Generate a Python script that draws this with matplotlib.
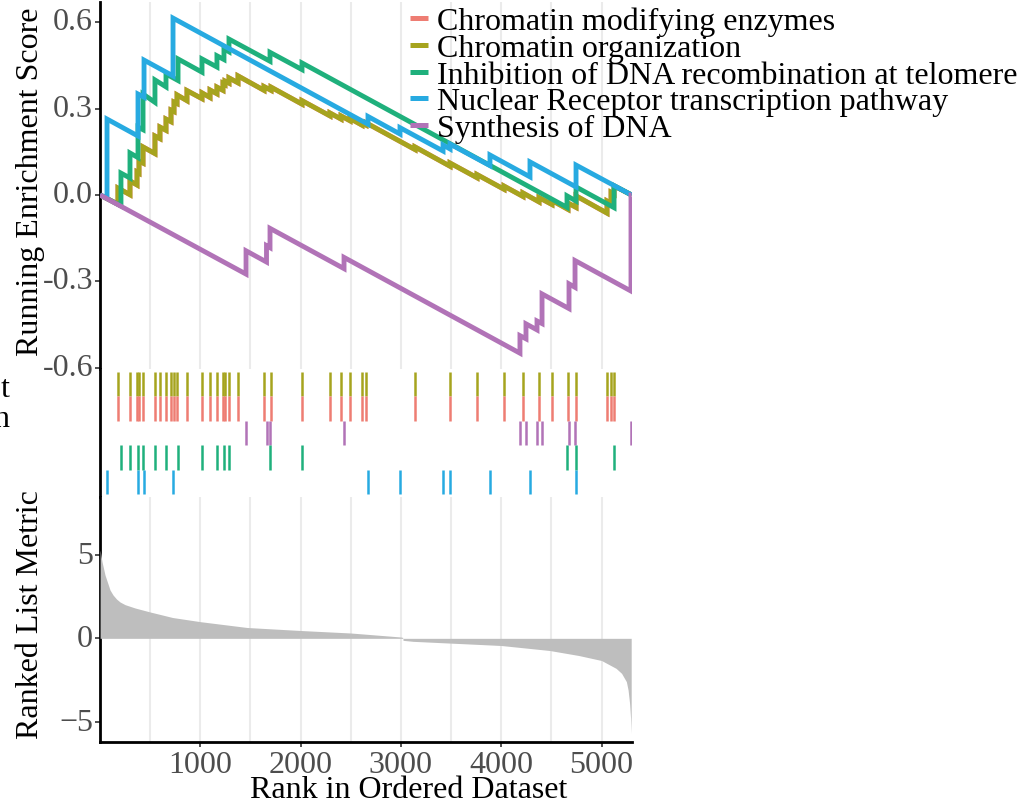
import matplotlib
matplotlib.use("Agg")
import matplotlib.pyplot as plt
from matplotlib.lines import Line2D
from matplotlib.ticker import FormatStrFormatter
from matplotlib.transforms import ScaledTranslation
import numpy as np

plt.rcParams['font.family'] = ['Liberation Serif', 'DejaVu Serif']
plt.rcParams['axes.unicode_minus'] = True

W, H = 1024, 803
N_GENES = 5300

set_names = [
    "Chromatin modifying enzymes",
    "Chromatin organization",
    "Inhibition of DNA recombination at telomere",
    "Nuclear Receptor transcription pathway",
    "Synthesis of DNA",
]
set_colors = ["#EE7D73", "#A6A41E", "#1FB07C", "#27AAE1", "#B173B7"]

# ---- gene-set hit ranks and running enrichment score just before / after each hit ----
chromatin_hits = [179, 299, 369, 389, 429, 548, 598, 658, 708, 738, 768, 867, 1017,
                  1097, 1166, 1226, 1246, 1286, 1376, 1635, 1705, 2014, 2293, 2403,
                  2493, 2612, 2652, 3141, 3490, 3759, 4028, 4217, 4377, 4506, 4666,
                  4746, 5055, 5095, 5125]
chromatin_es_pre = [-0.032, 0.001, 0.035, 0.076, 0.111, 0.144, 0.196, 0.225, 0.255,
                    0.290, 0.318, 0.328, 0.335, 0.339, 0.352, 0.364, 0.384, 0.389,
                    0.390, 0.364, 0.364, 0.316, 0.275, 0.264, 0.258, 0.243, 0.243,
                    0.158, 0.100, 0.060, 0.020, -0.005, -0.024, -0.033, -0.050,
                    -0.043, -0.063, -0.029, 0.003]
chromatin_es_post = [0.024, 0.049, 0.080, 0.118, 0.167, 0.205, 0.236, 0.264, 0.295,
                     0.323, 0.348, 0.363, 0.355, 0.365, 0.375, 0.388, 0.396, 0.407,
                     0.414, 0.377, 0.375, 0.328, 0.285, 0.275, 0.266, 0.250, 0.251,
                     0.167, 0.111, 0.071, 0.031, 0.007, -0.009, -0.019, -0.028,
                     -0.003, -0.021, 0.009, 0.032]

telomere_hits = [209, 299, 379, 429, 548, 658, 778, 1017, 1166, 1236, 1286, 1695,
                 2014, 4656, 4746, 5125]
telomere_es_pre = [-0.038, 0.059, 0.130, 0.227, 0.322, 0.376, 0.398, 0.427, 0.445,
                   0.471, 0.498, 0.465, 0.436, -0.043, -0.021, -0.044]
telomere_es_post = [0.076, 0.146, 0.236, 0.351, 0.400, 0.421, 0.473, 0.473, 0.484,
                    0.508, 0.542, 0.496, 0.459, -0.003, 0.028, 0.032]

receptor_hits = [70, 379, 439, 728, 2672, 2991, 3420, 3490, 3888, 4287, 4746]
receptor_es_pre = [-0.010, 0.205, 0.340, 0.414, 0.246, 0.212, 0.153, 0.160, 0.102,
                   0.063, 0.028]
receptor_es_post = [0.264, 0.351, 0.469, 0.615, 0.273, 0.234, 0.174, 0.177, 0.139,
                    0.115, 0.104]

synthesis_hits = [1456, 1660, 1695, 2433, 4187, 4247, 4357, 4407, 4676, 4736, 5294]
synthesis_es_pre = [-0.275, -0.233, -0.183, -0.256, -0.550, -0.500, -0.469, -0.447,
                    -0.395, -0.321, -0.334]
synthesis_es_post = [-0.194, -0.176, -0.116, -0.217, -0.489, -0.448, -0.438, -0.344,
                     -0.309, -0.228, 0.000]

# both chromatin sets share the same leading genes
set_hits = [chromatin_hits, chromatin_hits, telomere_hits, receptor_hits, synthesis_hits]
set_pre = [chromatin_es_pre, chromatin_es_pre, telomere_es_pre, receptor_es_pre, synthesis_es_pre]
set_post = [chromatin_es_post, chromatin_es_post, telomere_es_post, receptor_es_post, synthesis_es_post]

# rug rows from top to bottom (indices into set_names)
rug_order = [1, 0, 4, 2, 3]

# ---- ranked list metric ----
metric_rank = [1, 20, 50, 100, 130, 166, 200, 250, 350, 500, 723, 1000, 1467, 2000,
               2500, 3000, 3020, 3021, 3120, 4000, 4483, 4773, 5000, 5145, 5200,
               5248, 5265, 5280, 5290, 5296]
metric_value = [5.3, 4.6, 3.8, 2.9, 2.6, 2.35, 2.18, 2.02, 1.82, 1.58, 1.25, 1.0,
                0.65, 0.47, 0.32, 0.08, 0.05, -0.12, -0.18, -0.43, -0.73, -1.03,
                -1.33, -1.8, -2.1, -2.6, -3.1, -3.9, -4.8, -5.7]

x_ticks = [1000, 2000, 3000, 4000, 5000]
x_minor = [500, 1500, 2500, 3500, 4500]
es_ticks = [-0.6, -0.3, 0.0, 0.3, 0.6]
metric_ticks = [-5, 0, 5]

FS = 23
TICK_COLOR = "#4D4D4D"
GRID_COLOR = "#EBEBEB"


def px_axes(x0, y0, x1, y1):
    return fig.add_axes([x0 / W, 1 - y1 / H, (x1 - x0) / W, (y1 - y0) / H])


def es_path(hits, pre, post, n):
    xs, ys = [1], [0.0]
    for r, a, b in zip(hits, pre, post):
        xs += [r, r]
        ys += [a, b]
    xs.append(n)
    ys.append(0.0)
    return xs, ys


def lift_labels(labels, dy_px):
    shift = ScaledTranslation(0, dy_px / 100, fig.dpi_scale_trans)
    for lab in labels:
        lab.set_transform(lab.get_transform() + shift)


fig = plt.figure(figsize=(W / 100, H / 100), dpi=100)

X0, X1 = 100, 631.6

# ---------- running enrichment score ----------
ax1 = px_axes(X0, 3, X1, 370)
ax1.set_xlim(0, N_GENES)
ax1.set_ylim(-0.605, 0.671)
for i in range(len(set_names)):
    xs, ys = es_path(set_hits[i], set_pre[i], set_post[i], N_GENES)
    ax1.plot(xs, ys, color=set_colors[i], lw=3.5, solid_joinstyle='miter',
             solid_capstyle='butt', zorder=3 + i)
ax1.set_xticks(x_ticks)
ax1.set_xticks(x_minor, minor=True)
ax1.grid(True, axis='x', which='both', color=GRID_COLOR, lw=1.5)
ax1.set_axisbelow(True)
ax1.tick_params(axis='x', which='both', length=0, labelbottom=False)
ax1.set_yticks(es_ticks)
ax1.yaxis.set_major_formatter(FormatStrFormatter('%.1f'))
ax1.tick_params(axis='y', length=3.5, width=1.2, color='#333333', pad=1.5,
                labelsize=FS, labelcolor=TICK_COLOR)
for s in ['top', 'right', 'bottom']:
    ax1.spines[s].set_visible(False)
ax1.spines['left'].set_linewidth(2.0)
lift_labels(ax1.get_yticklabels(), 4)

# ---------- gene set rug ----------
ax2 = px_axes(X0, 370, X1, 498)
ax2.set_xlim(0, N_GENES)
ax2.set_ylim(-5.12, 0.12)
for row, idx in enumerate(rug_order):
    ax2.vlines(set_hits[idx], -row - 1, -row, color=set_colors[idx], lw=1.8)
ax2.set_xticks([])
ax2.set_yticks([])
for s in ['top', 'right', 'bottom']:
    ax2.spines[s].set_visible(False)
ax2.spines['left'].set_linewidth(2.0)

# ---------- ranked list metric ----------
ax3 = px_axes(X0, 498, X1, 743)
ax3.set_xlim(0, N_GENES)
ax3.set_ylim(-6.22, 8.48)
ax3.fill_between(metric_rank, 0, metric_value, color="#BEBEBE", lw=0, zorder=3)
ax3.set_xticks(x_ticks)
ax3.set_xticks(x_minor, minor=True)
ax3.grid(True, axis='x', which='both', color=GRID_COLOR, lw=1.5)
ax3.set_axisbelow(True)
ax3.tick_params(axis='x', which='minor', length=0)
ax3.tick_params(axis='x', which='major', length=3.5, width=1.2, color='#333333',
                pad=2.0, labelsize=FS, labelcolor=TICK_COLOR)
ax3.set_yticks(metric_ticks)
ax3.tick_params(axis='y', length=3.5, width=1.2, color='#333333', pad=1.5,
                labelsize=FS, labelcolor=TICK_COLOR)
for s in ['top', 'right']:
    ax3.spines[s].set_visible(False)
ax3.spines['left'].set_linewidth(2.0)
ax3.spines['bottom'].set_linewidth(2.0)
lift_labels(ax3.get_yticklabels(), 3)

# ---------- axis titles ----------
fig.text(31 / W, 1 - 182 / H, "Running Enrichment Score", rotation=90,
         ha='center', va='center', fontsize=FS, color='black')
fig.text(31 / W, 1 - 615 / H, "Ranked List Metric", rotation=90,
         ha='center', va='center', fontsize=FS, color='black')
fig.text(409 / W, 1 - 798 / H, "Rank in Ordered Dataset",
         ha='center', va='baseline', fontsize=FS, color='black')
fig.text(10 / W, 1 - 397 / H, "Gene set", ha='right', va='baseline',
         fontsize=FS, color='black')
fig.text(10 / W, 1 - 427 / H, "position", ha='right', va='baseline',
         fontsize=FS, color='black')

# ---------- legend ----------
for i, name in enumerate(set_names):
    yk = 19 + 26.75 * i
    fig.add_artist(Line2D([410 / W, 428 / W], [1 - yk / H, 1 - yk / H],
                          color=set_colors[i], lw=3.6, solid_capstyle='butt'))
    fig.text(437 / W, 1 - (yk + 11) / H, name, ha='left', va='baseline',
             fontsize=FS, color='black')

fig.savefig("out.png", dpi=100)
